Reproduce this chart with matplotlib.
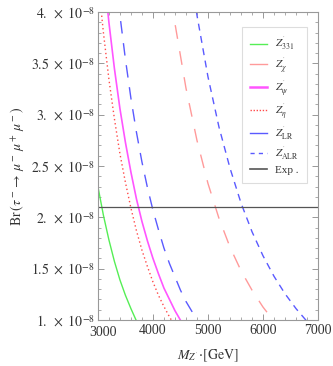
import matplotlib
matplotlib.use("Agg")
import matplotlib.pyplot as plt
from matplotlib.lines import Line2D
from matplotlib.ticker import MultipleLocator, FixedLocator
import matplotlib.transforms as mtransforms

plt.rcParams['mathtext.fontset'] = 'stix'
plt.rcParams['font.family'] = ['Liberation Serif', 'DejaVu Serif']

# Data (Br in units of 1e-8, M in GeV)
m_331 = [3000, 3100, 3200, 3300, 3400, 3500, 3600, 3700]
br_331 = [2.30, 2.02, 1.78, 1.57, 1.39, 1.24, 1.11, 0.99]

m_eta = [3000, 3100, 3200, 3300, 3400, 3500, 3600, 3700, 3800, 3900, 4000, 4100, 4200, 4300, 4400]
br_eta = [4.33, 3.80, 3.345, 2.96, 2.62, 2.34, 2.09, 1.87, 1.68, 1.52, 1.37, 1.24, 1.13, 1.03, 0.94]

m_psi = [3000, 3100, 3200, 3300, 3400, 3500, 3600, 3700, 3800, 3900, 4000, 4100, 4200, 4300, 4400, 4500, 4600]
br_psi = [5.05, 4.43, 3.90, 3.45, 3.06, 2.73, 2.44, 2.18, 1.96, 1.77, 1.60, 1.45, 1.31, 1.20, 1.09, 0.997, 0.91]

m_lr = [3300, 3400, 3500, 3600, 3700, 3800, 3900, 4000, 4100, 4200, 4300, 4400, 4500, 4600, 4700, 4800, 4900]
br_lr = [4.47, 3.97, 3.54, 3.16, 2.83, 2.54, 2.29, 2.07, 1.88, 1.70, 1.55, 1.42, 1.29, 1.18, 1.09, 1.00, 0.92]

m_chi = [4200, 4400, 4600, 4800, 5000, 5200, 5400, 5600, 5800, 6000, 6200, 6400]
br_chi = [4.69, 3.89, 3.26, 2.75, 2.33, 1.99, 1.71, 1.48, 1.29, 1.125, 0.987, 0.869]

m_alr = [4600, 4800, 5000, 5200, 5400, 5600, 5800, 6000, 6200, 6400, 6600, 6800, 7000]
br_alr = [4.70, 3.97, 3.37, 2.88, 2.48, 2.14, 1.86, 1.625, 1.425, 1.255, 1.11, 0.985, 0.877]

br_exp = 2.1

x_ticks = [3000, 4000, 5000, 6000, 7000]
y_ticks = [1.0, 1.5, 2.0, 2.5, 3.0, 3.5, 4.0]
y_ticklabels = [r"$1.\ \times\ 10^{-8}$", r"$1.5\ \times\ 10^{-8}$", r"$2.\ \times\ 10^{-8}$",
                r"$2.5\ \times\ 10^{-8}$", r"$3.\ \times\ 10^{-8}$", r"$3.5\ \times\ 10^{-8}$",
                r"$4.\ \times\ 10^{-8}$"]

labels = [r"$Z^{'}_{331}$", r"$Z^{'}_{\chi}$", r"$Z^{'}_{\psi}$", r"$Z^{'}_{\eta}$",
          r"$Z^{'}_{\rm LR}$", r"$Z^{'}_{\rm ALR}$", r"Exp ."]

c_green = '#55ee55'
c_pink = '#ff9a9a'
c_mag = '#ff55ff'
c_red = '#ff4a4a'
c_blue = '#5a5aff'
c_gray = '#555555'

fig = plt.figure(figsize=(3.33, 3.66), dpi=100)
ax = fig.add_axes([0.294, 0.126, 0.661, 0.841])

ax.plot(m_331, br_331, color=c_green, lw=1.0)
ax.plot(m_chi, br_chi, color=c_pink, lw=1.0, dashes=(10, 9))
ax.plot(m_psi, br_psi, color=c_mag, lw=1.2)
ax.plot(m_eta, br_eta, color=c_red, lw=1.0, dashes=(1, 2))
ax.plot(m_lr, br_lr, color=c_blue, lw=1.0, dashes=(9, 7))
ax.plot(m_alr, br_alr, color=c_blue, lw=1.0, dashes=(5, 4))
ax.axhline(br_exp, color=c_gray, lw=0.9)

ax.set_xlim(3000, 7000)
ax.set_ylim(1.0, 4.0)
ax.xaxis.set_major_locator(FixedLocator(x_ticks))
ax.xaxis.set_minor_locator(MultipleLocator(200))
ax.yaxis.set_major_locator(FixedLocator(y_ticks))
ax.set_yticklabels(y_ticklabels)
ax.yaxis.set_minor_locator(MultipleLocator(0.1))
ax.tick_params(which='both', direction='in', top=True, right=True, color='#888888',
               labelsize=10, labelcolor='#333333')
ax.tick_params(which='major', length=4, width=0.6)
ax.tick_params(which='minor', length=2, width=0.5)
ax.tick_params(axis='y', pad=2)
ax.tick_params(axis='x', pad=3)
for s in ax.spines.values():
    s.set_color('#999999')
    s.set_linewidth(0.8)

ax.set_xlabel(r"$M_{Z^{'}}\!\cdot\![\mathrm{GeV}]$", fontsize=10, color='#333333', labelpad=6)
ax.set_ylabel(r"$\mathrm{Br}\,(\tau^-\rightarrow\,\mu^-\,\mu^+\,\mu^-)$", fontsize=10,
              color='#333333', labelpad=4)

# shift first x tick label right a little (as in reference)
fig.canvas.draw()
xl = ax.get_xticklabels()
xl[0].set_transform(xl[0].get_transform() + mtransforms.ScaledTranslation(5/100, -2/100, fig.dpi_scale_trans))

handles = [
    Line2D([], [], color=c_green, lw=1.0),
    Line2D([], [], color=c_pink, lw=1.0),
    Line2D([], [], color=c_mag, lw=1.8),
    Line2D([], [], color=c_red, lw=1.0, dashes=(1, 1.2)),
    Line2D([], [], color=c_blue, lw=1.0),
    Line2D([], [], color=c_blue, lw=1.0, dashes=(3, 3)),
    Line2D([], [], color=c_gray, lw=1.2),
]
leg = ax.legend(handles, labels, loc='upper left', bbox_to_anchor=(0.655, 0.952),
                fontsize=8, handlelength=1.5, handletextpad=0.7, labelspacing=0.28,
                borderpad=0.75, frameon=True, fancybox=False, framealpha=1,
                edgecolor='#dddddd', borderaxespad=0)
leg.get_frame().set_linewidth(0.8)
for t in leg.get_texts():
    t.set_color('#333333')

fig.savefig("out.png", dpi=100)
